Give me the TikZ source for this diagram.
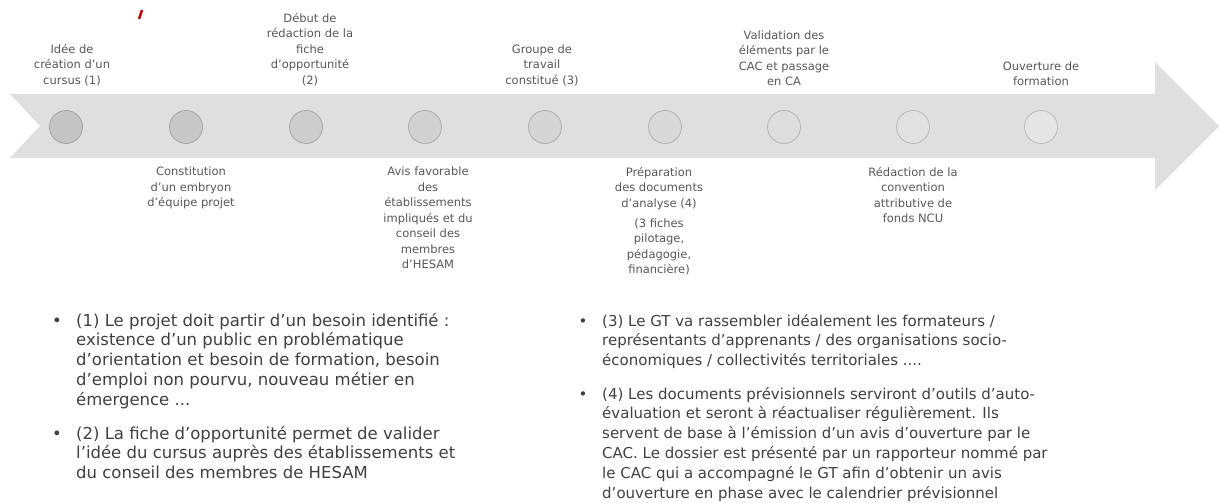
\documentclass[tikz,border=0pt]{standalone}
\usepackage{fontspec}
\setmainfont{DejaVu Sans}
\usetikzlibrary{positioning}

\definecolor{bandgray}{HTML}{DFDFDF}
\definecolor{labelgray}{HTML}{575757}
\definecolor{notegray}{HTML}{404040}
\definecolor{markred}{HTML}{C00000}

\tikzset{
  stage/.style={circle, minimum size=33pt, inner sep=0pt, line width=0.8pt},
  tag/.style={align=center, inner sep=0pt, text=labelgray,
    font=\fontsize{11.5}{15.5}\selectfont},
  note/.style={align=left, inner sep=0pt, text=notegray, anchor=north west,
    font=\fontsize{#1}{19.8}\selectfont},
  note/.default=15,
  dot/.style={inner sep=0pt, text=notegray, anchor=north,
    font=\fontsize{#1}{19.8}\selectfont},
}

\begin{document}
\begin{tikzpicture}[x=1pt,y=-1pt,node distance=24pt]
    \useasboundingbox (0,0) rectangle (1219,503);
    % the band, with its notch and its head
    \fill[bandgray] (10,94) -- (1155,94) -- (1155,62) -- (1219,126)
        -- (1155,190) -- (1155,158) -- (10,158) -- (40,126) -- cycle;
    \draw[markred, line width=2.5pt] (139,19) -- (142,10);

    % stages, lighter to the right
    \foreach \i/\x in {1/66,2/186,3/306,4/425,5/545,6/665,7/784,8/913,9/1041}{
        \pgfmathsetmacro\fillshade{23-1.6*(\i-1)}
        \pgfmathsetmacro\rimshade{36-1.2*(\i-1)}
        \node[stage, fill=black!\fillshade, draw=black!\rimshade] (c\i) at (\x,127) {};
    }

    \node[tag, above=of c1, xshift=6pt] (t1) {Idée de\\création d’un\\cursus (1)};
    \node[tag, below=23pt of c2, xshift=5pt] (t2) {Constitution\\d’un embryon\\d’équipe projet};
    \node[tag, above=of c3, xshift=4pt] (t3) {Début de\\rédaction de la\\fiche\\d’opportunité\\(2)};
    \node[tag, below=23pt of c4, xshift=3pt] (t4) {Avis favorable\\des\\établissements\\impliqués et du\\conseil des\\membres\\d’HESAM};
    \node[tag, above=of c5, xshift=-3pt] (t5) {Groupe de\\travail\\constitué (3)};
    \node[tag, below=23pt of c6, xshift=-6pt] (t6) {Préparation\\des documents\\d’analyse (4)\\[4.5pt](3 fiches\\pilotage,\\pédagogie,\\financière)};
    \node[tag, above=of c7] (t7) {Validation des\\éléments par le\\CAC et passage\\en CA};
    \node[tag, below=23pt of c8] (t8) {Rédaction de la\\convention\\attributive de\\fonds NCU};
    \node[tag, above=of c9] (t9) {Ouverture de\\formation};

    % notes under the timeline
    \node[note=16.5] (n1) at (76,312) {\strut(1) Le projet doit partir d’un besoin identifié :\\existence d’un public en problématique\\d’orientation et besoin de formation, besoin\\d’emploi non pourvu, nouveau métier en\\émergence ...};
    \node[note=16.5] (n2) at (76,425) {\strut(2) La fiche d’opportunité permet de valider\\l’idée du cursus auprès des établissements et\\du conseil des membres de HESAM};
    \node[note] (n3) at (602,312) {\strut(3) Le GT va rassembler idéalement les formateurs /\\représentants d’apprenants / des organisations socio-\\économiques / collectivités territoriales ....};
    \node[note] (n4) at (602,385) {\strut(4) Les documents prévisionnels serviront d’outils d’auto-\\évaluation et seront à réactualiser régulièrement. Ils\\servent de base à l’émission d’un avis d’ouverture par le\\CAC. Le dossier est présenté par un rapporteur nommé par\\le CAC qui a accompagné le GT afin d’obtenir un avis\\d’ouverture en phase avec le calendrier prévisionnel};
    \foreach \n/\s in {1/16.5,2/16.5,3/15,4/15}
        \node[dot=\s] (b\n) at ([xshift=-19pt]n\n.north west) {\strut•};
\end{tikzpicture}
\end{document}
